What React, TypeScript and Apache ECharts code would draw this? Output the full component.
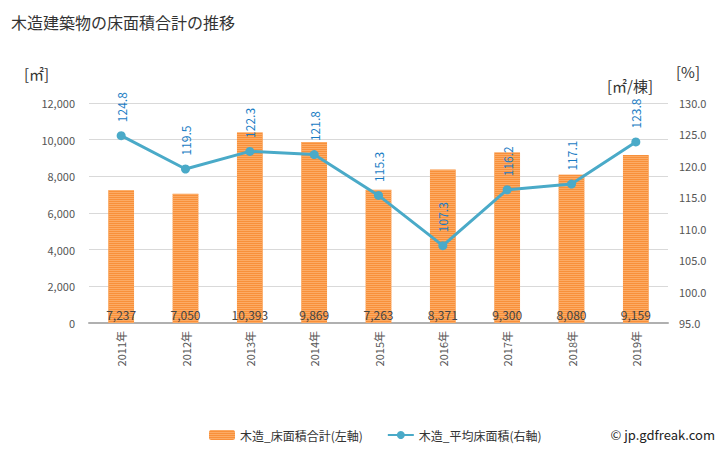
import React, { useEffect, useRef } from "react";
import * as echarts from "echarts";

const categories = ["2011年", "2012年", "2013年", "2014年", "2015年", "2016年", "2017年", "2018年", "2019年"];
const floorArea = [7237, 7050, 10393, 9869, 7263, 8371, 9300, 8080, 9159];
const avgArea = [124.8, 119.5, 122.3, 121.8, 115.3, 107.3, 116.2, 117.1, 123.8];
const barName = "木造_床面積合計(左軸)";
const lineName = "木造_平均床面積(右軸)";
const titleText = "木造建築物の床面積合計の推移";

const FONT = "'Noto Sans CJK JP', 'Noto Sans', sans-serif";

export default function App() {
  const ref = useRef<HTMLDivElement>(null);
  useEffect(() => {
    if (!ref.current) return;
    const chart = echarts.init(ref.current, null, { renderer: "svg" });
    chart.setOption({
      animation: false,
      textStyle: { fontFamily: FONT },
      title: {
        text: titleText,
        left: 6,
        top: 9,
        textStyle: { fontSize: 16, fontWeight: "normal", color: "#333", fontFamily: FONT },
      },
      graphic: [
        { type: "text", left: 24, top: 66, style: { text: "[㎡]", fontSize: 15, fill: "#333", fontFamily: FONT } },
        { type: "text", left: 676, top: 64, style: { text: "[%]", fontSize: 15, fill: "#333", fontFamily: FONT } },
        { type: "text", left: 607, top: 78, style: { text: "[㎡/棟]", fontSize: 15, fill: "#333", fontFamily: FONT } },
        { type: "text", right: 13, top: 428, style: { text: "© jp.gdfreak.com", fontSize: 13, fill: "#222", fontFamily: FONT } },
      ],
      legend: {
        left: 204,
        top: 424,
        itemGap: 24,
        itemWidth: 26,
        itemHeight: 10,
        textStyle: { fontSize: 12, color: "#333", fontFamily: FONT },
        data: [barName, lineName],
      },
      grid: { left: 89, right: 60, top: 103, bottom: 127 },
      xAxis: {
        type: "category",
        data: categories,
        axisLine: { lineStyle: { color: "#b0b0b0", width: 2 } },
        axisTick: { show: false },
        axisLabel: { rotate: 90, fontSize: 11, color: "#555", margin: 8 },
      },
      yAxis: [
        {
          type: "value",
          min: 0,
          max: 12000,
          interval: 2000,
          axisLine: { show: false },
          axisTick: { show: false },
          splitLine: { lineStyle: { color: "#d9d9d9" } },
          axisLabel: {
            fontSize: 11,
            color: "#555",
            margin: 14,
            formatter: (v: number) => v.toLocaleString("en-US"),
          },
        },
        {
          type: "value",
          min: 95,
          max: 130,
          interval: 5,
          axisLine: { show: false },
          axisTick: { show: false },
          splitLine: { show: false },
          axisLabel: { fontSize: 11, color: "#555", margin: 11, formatter: (v: number) => v.toFixed(1) },
        },
      ],
      series: [
        {
          name: barName,
          type: "bar",
          data: floorArea,
          barWidth: "40%",
          itemStyle: {
            color: "#f8903a",
            decal: {
              symbol: "rect",
              symbolSize: 1,
              dashArrayX: [1, 0],
              dashArrayY: [1, 1],
              rotation: 0,
              color: "rgba(253,180,115,0.75)",
            },
          },
          label: {
            show: true,
            position: "insideBottom",
            distance: 3,
            fontSize: 12,
            color: "#444",
            formatter: (p: any) => Number(p.value).toLocaleString("en-US"),
          },
          z: 2,
        },
        {
          name: lineName,
          type: "line",
          yAxisIndex: 1,
          data: avgArea,
          symbol: "circle",
          symbolSize: 9,
          lineStyle: { color: "#4aaac8", width: 3 },
          itemStyle: { color: "#4aaac8" },
          label: {
            show: true,
            position: "top",
            distance: 9,
            rotate: 90,
            align: "left",
            verticalAlign: "middle",
            fontSize: 12,
            color: "#1a7cc4",
            formatter: (p: any) => Number(p.value).toFixed(1),
          },
          z: 3,
        },
      ],
    });
    return () => chart.dispose();
  }, []);
  return <div ref={ref} style={{ width: 728, height: 450, position: "absolute", left: 0, top: 0, background: "#fff" }} />;
}
